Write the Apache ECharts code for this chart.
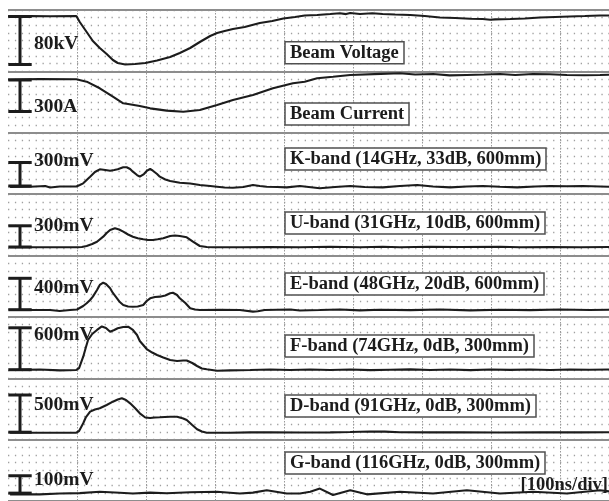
<!DOCTYPE html>
<html>
<head>
<meta charset="utf-8">
<script src="https://cdn.jsdelivr.net/npm/echarts@6/dist/echarts.min.js"></script>
<style>
  html, body { margin: 0; padding: 0; background: #fff; }
  #chart { width: 609px; height: 501px; }
</style>
</head>
<body>
<div id="chart"></div>
<script>
// ---- Channel data: time in ns (100 ns per division), amplitude in the channel's unit ----
const channelNames = [
  'Beam Voltage', 'Beam Current',
  'K-band (14GHz, 33dB, 600mm)', 'U-band (31GHz, 10dB, 600mm)',
  'E-band (48GHz, 20dB, 600mm)', 'F-band (74GHz, 0dB, 300mm)',
  'D-band (91GHz, 0dB, 300mm)', 'G-band (116GHz, 0dB, 300mm)'
];
const scaleValues = [80, 300, 300, 300, 400, 600, 500, 100];
const scaleUnits = ['kV', 'A', 'mV', 'mV', 'mV', 'mV', 'mV', 'mV'];
const timeBase = '[100ns/div]';

const beamVoltage = [[0,80.3],[32,80.8],[61,80.5],[99,80.8],[104,70.8],[114,54.2],[123,39.2],[133,27.5],[143,17.5],[152,7.5],[159,2.5],[170,0],[184,0.8],[199,2.5],[216,6.7],[235,12.5],[249,19.2],[264,27.5],[278,37.5],[293,47.5],[303,52.5],[314,55.8],[326,59.2],[343,62.5],[365,69.2],[383,72.5],[399,76.7],[416,79.2],[430,81.7],[448,82.5],[467,84.2],[481,85.5],[490,84],[496,85.8],[510,84.2],[528,85.3],[543,84.2],[561,83.3],[583,82.5],[604,80.8],[626,78.3],[648,77.5],[670,76.2],[688,75.8],[699,74.5],[706,75.2],[728,75.8],[749,76.7],[771,78.3],[793,79.2],[814,80],[836,80.8],[858,81.7],[871,81.7]];
const beamCurrent = [[0,305],[46,310],[99,307],[114,284],[133,221],[152,141],[167,78],[174,71],[191,52],[206,30],[230,8],[254,-2],[278,14],[303,62],[326,110],[355,157],[384,221],[413,269],[430,284],[448,316],[471,331],[496,348],[540,358],[568,364],[590,352],[616,357],[640,344],[665,348],[690,352],[713,357],[735,348],[761,357],[785,355],[810,348],[835,345],[858,348],[871,350]];
const kBand = [[3,-13],[32,-9],[54,0],[61,-19],[75,-6],[99,-6],[104,13],[109,34],[114,77],[119,119],[126,179],[133,213],[141,204],[148,195],[154,204],[159,213],[167,239],[172,239],[177,217],[181,183],[187,140],[191,119],[197,153],[201,192],[206,217],[210,195],[216,153],[220,119],[228,83],[235,64],[249,42],[264,32],[278,13],[293,0],[303,-9],[314,-19],[326,-22],[341,-13],[355,13],[365,0],[375,-9],[390,-13],[404,-17],[423,0],[452,-29],[474,-13],[496,0],[517,-13],[543,-17],[568,0],[593,13],[616,-6],[641,-17],[665,-6],[688,0],[713,-10],[738,-17],[764,-6],[786,0],[810,-4],[833,0],[858,-6],[871,-9]];
const uBand = [[3,-4],[46,-4],[99,-4],[107,0],[114,14],[122,42],[129,75],[138,146],[143,198],[148,241],[155,265],[161,248],[167,217],[174,177],[181,146],[188,123],[196,109],[203,99],[210,99],[217,109],[225,123],[235,156],[242,163],[249,156],[259,137],[268,75],[278,14],[288,0],[297,-4],[336,-4],[380,0],[423,-4],[467,4],[510,-4],[543,4],[568,-4],[612,4],[655,0],[713,4],[742,-4],[786,0],[829,-4],[871,0]];
const eBand = [[3,-4],[61,-4],[75,-17],[90,-4],[100,3],[109,47],[114,82],[119,124],[123,166],[129,251],[133,315],[138,344],[142,327],[148,273],[152,213],[158,145],[162,98],[167,60],[174,41],[181,38],[188,41],[196,60],[201,111],[206,145],[213,162],[220,166],[228,181],[235,209],[239,217],[245,187],[249,145],[257,85],[264,18],[271,3],[278,-4],[307,0],[336,-4],[355,-25],[362,-20],[372,-4],[409,3],[423,-10],[452,-4],[481,3],[510,-8],[539,0],[583,-6],[626,3],[670,-8],[713,0],[757,-6],[800,3],[843,-4],[871,0]];
const fBand = [[3,-4],[46,3],[75,-9],[99,-4],[103,24],[109,186],[113,325],[116,425],[122,511],[129,569],[136,619],[142,597],[148,544],[154,569],[159,593],[167,611],[174,616],[181,569],[187,497],[191,411],[196,354],[201,296],[209,246],[216,211],[225,175],[235,139],[245,125],[254,132],[259,132],[267,96],[274,53],[281,17],[288,6],[303,-14],[322,-9],[351,-4],[380,3],[409,-4],[438,3],[467,-4],[496,3],[525,-6],[554,0],[583,4],[612,-4],[641,3],[670,-6],[699,2],[728,-3],[757,3],[786,-4],[814,3],[843,0],[871,3]];
const dBand = [[3,-7],[99,-7],[103,16],[109,120],[113,204],[119,276],[126,305],[133,321],[143,366],[152,410],[159,439],[165,456],[171,433],[177,388],[184,325],[191,254],[199,198],[206,191],[213,198],[220,200],[235,208],[245,208],[254,184],[259,164],[267,97],[274,39],[281,9],[288,-7],[322,-7],[351,-3],[380,0],[423,-4],[467,-3],[496,3],[525,10],[546,8],[568,0],[612,-3],[655,0],[713,-4],[771,0],[829,-3],[871,0]];
const gBand = [[3,-7],[46,-7],[75,-2],[104,0],[133,8],[162,2],[181,-2],[206,3],[230,-1],[264,5],[303,8],[336,-2],[355,3],[375,17],[404,-2],[423,-2],[438,8],[452,26],[471,-11],[496,17],[520,-7],[568,8],[616,-2],[665,17],[713,-2],[761,8],[810,-2],[858,17],[871,10]];

const traces = [beamVoltage, beamCurrent, kBand, uBand, eBand, fBand, dBand, gBand];

// ---- Layout (pixels) ----
const LEFT = 8, TOP = 10, PANEL_H = 61.6, T_MAX = 871;
const barTopPx    = [16.5, 80, 162.5, 225.8, 278.3, 327.8, 395, 476.8];
const barBottomPx = [64.5, 111.5, 186, 247, 309.7, 369.7, 432.2, 494.7];
const labelBaseline = [50, 112.7, 167.3, 231.7, 294.3, 341, 410.7, 486];
const boxTop = [41.7, 103, 148, 212, 273, 335, 395, 452];

const FONT = "'Liberation Serif', 'DejaVu Serif', serif";
const INK = '#1c1c1c';
const LABEL_FS = 19.5, BOX_FS = 18.5;

const grids = [{ left: LEFT, right: 0, top: TOP, height: PANEL_H * 8 }];
const xAxes = [{
  gridIndex: 0, type: 'value', min: 0, max: T_MAX, interval: 100,
  axisLine: { show: false }, axisTick: { show: false }, axisLabel: { show: false },
  splitLine: { show: true, showMinLine: false, lineStyle: { color: '#9a9a9a', width: 1, type: [1.5, 1.5] } }
}];
const yAxes = [
  { // minor dot lattice: 8 rows per panel, dots every 10 ns
    gridIndex: 0, type: 'value', min: 0, max: 64, interval: 1,
    axisLine: { show: false }, axisTick: { show: false }, axisLabel: { show: false },
    splitLine: { show: true, lineStyle: { color: '#a0a0a0', width: 1.3, type: [1.3, 5.6] } }
  },
  { // panel separators
    gridIndex: 0, type: 'value', min: 0, max: 8, interval: 1, position: 'right',
    axisLine: { show: false }, axisTick: { show: false }, axisLabel: { show: false },
    splitLine: { show: true, lineStyle: { color: '#8d8d8d', width: 2, type: 'solid' } }
  }
];
const series = [];
const titles = [];

traces.forEach((data, i) => {
  const pTop = TOP + PANEL_H * i;
  const pBot = pTop + PANEL_H;
  const pxPerUnit = (barBottomPx[i] - barTopPx[i]) / scaleValues[i];
  const g = i + 1;
  grids.push({ left: LEFT, right: 0, top: pTop, height: PANEL_H });
  xAxes.push({ gridIndex: g, type: 'value', min: 0, max: T_MAX, show: false });
  yAxes.push({
    gridIndex: g, type: 'value', show: false,
    min: -(pBot - barBottomPx[i]) / pxPerUnit,
    max: (barBottomPx[i] - pTop) / pxPerUnit
  });
  const ax = yAxes.length - 1;
  series.push({
    type: 'line', xAxisIndex: g, yAxisIndex: ax, data: data,
    showSymbol: false, silent: true, animation: false, z: 5,
    lineStyle: { color: INK, width: 2.1 }
  });
  // vertical scale marker spanning 0 .. scale value
  series.push({
    type: 'custom', xAxisIndex: g, yAxisIndex: ax, data: [[0, scaleValues[i]]],
    clip: false, silent: true, animation: false, z: 6,
    renderItem: function (params, api) {
      const top = api.coord([api.value(0), api.value(1)]);
      const bot = api.coord([api.value(0), 0]);
      const cx = top[0] + 12, half = 11.7;
      const st = { stroke: INK, lineWidth: 3 };
      return {
        type: 'group', children: [
          { type: 'line', shape: { x1: cx, y1: top[1], x2: cx, y2: bot[1] }, style: st },
          { type: 'line', shape: { x1: cx - half, y1: top[1], x2: cx + half, y2: top[1] }, style: st },
          { type: 'line', shape: { x1: cx - half, y1: bot[1], x2: cx + half, y2: bot[1] }, style: st }
        ]
      };
    }
  });
  titles.push({
    text: scaleValues[i] + scaleUnits[i], left: 34, top: labelBaseline[i] - 0.8 * LABEL_FS, padding: 0,
    textStyle: { fontFamily: FONT, fontWeight: 'bold', fontSize: LABEL_FS, lineHeight: LABEL_FS, color: INK }
  });
  titles.push({
    text: channelNames[i], left: 285, top: boxTop[i], padding: [2, 5, 1, 5],
    backgroundColor: '#ffffff', borderColor: '#505050', borderWidth: 1.5,
    textStyle: { fontFamily: FONT, fontWeight: 'bold', fontSize: BOX_FS, lineHeight: BOX_FS, color: INK }
  });
});

titles.push({
  text: timeBase, right: 1, top: 476, padding: 0,
  textStyle: { fontFamily: FONT, fontWeight: 'bold', fontSize: 18.5, lineHeight: 18.5, color: INK }
});

const chart = echarts.init(document.getElementById('chart'), null, { renderer: 'canvas' });
chart.setOption({
  animation: false,
  backgroundColor: '#ffffff',
  title: titles,
  grid: grids,
  xAxis: xAxes,
  yAxis: yAxes,
  series: series
});
</script>
</body>
</html>
